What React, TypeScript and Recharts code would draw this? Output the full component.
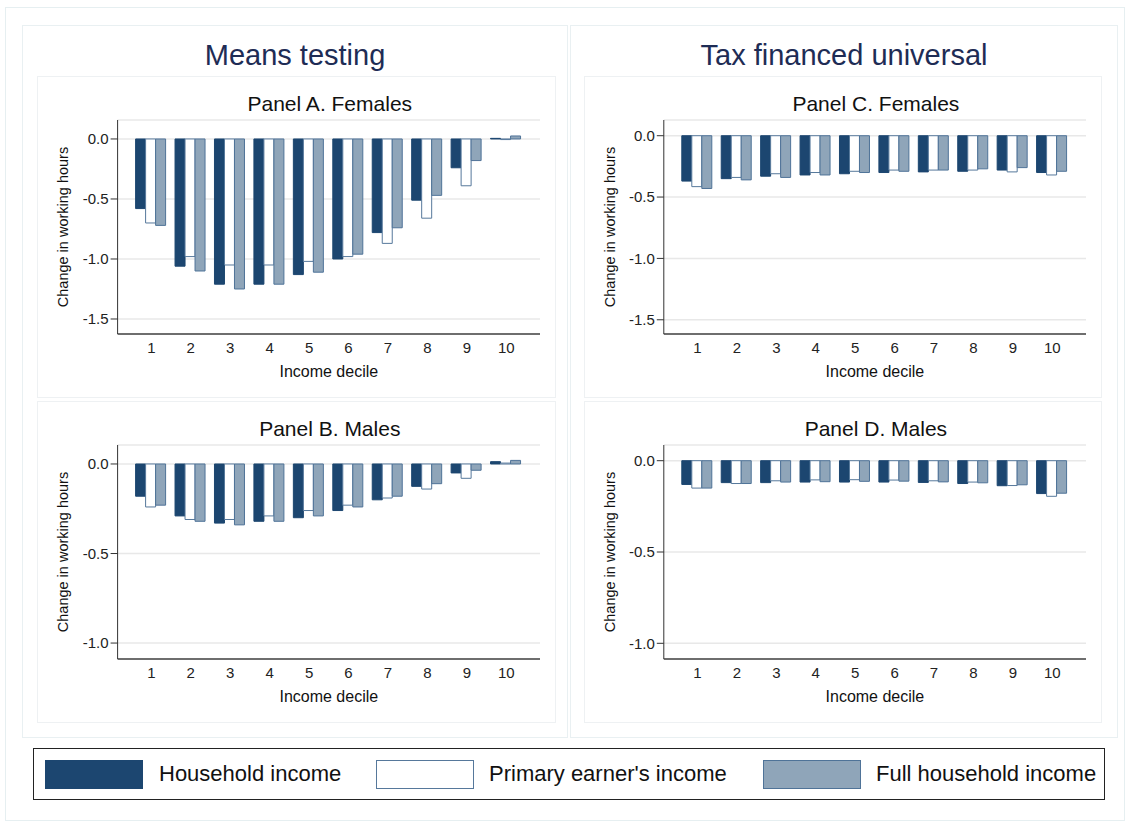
import { BarChart, Bar, XAxis, YAxis, CartesianGrid } from "recharts";

const DECILES = ["1", "2", "3", "4", "5", "6", "7", "8", "9", "10"];

const SERIES = [
  { key: "hh", label: "Household income", fill: "#1c4670", stroke: "#1c4670" },
  { key: "pe", label: "Primary earner's income", fill: "#ffffff", stroke: "#56789b" },
  { key: "full", label: "Full household income", fill: "#8fa5b9", stroke: "#4f7398" },
];

// Means testing, females
const mtFemHh = [-0.58, -1.06, -1.21, -1.21, -1.13, -1.0, -0.78, -0.51, -0.24, 0.005];
const mtFemPe = [-0.7, -0.98, -1.05, -1.05, -1.02, -0.98, -0.87, -0.66, -0.39, -0.005];
const mtFemFull = [-0.72, -1.1, -1.25, -1.21, -1.11, -0.96, -0.74, -0.47, -0.18, 0.025];

// Means testing, males
const mtMalHh = [-0.18, -0.29, -0.33, -0.32, -0.3, -0.26, -0.2, -0.125, -0.05, 0.013];
const mtMalPe = [-0.24, -0.31, -0.31, -0.29, -0.26, -0.23, -0.19, -0.14, -0.08, 0.005];
const mtMalFull = [-0.23, -0.32, -0.34, -0.32, -0.29, -0.24, -0.18, -0.11, -0.035, 0.02];

// Tax financed universal, females
const tuFemHh = [-0.37, -0.35, -0.33, -0.32, -0.31, -0.3, -0.295, -0.29, -0.28, -0.3];
const tuFemPe = [-0.415, -0.34, -0.31, -0.3, -0.29, -0.28, -0.28, -0.28, -0.295, -0.32];
const tuFemFull = [-0.43, -0.36, -0.34, -0.32, -0.3, -0.29, -0.28, -0.27, -0.26, -0.29];

// Tax financed universal, males
const tuMalHh = [-0.13, -0.12, -0.12, -0.117, -0.117, -0.117, -0.119, -0.125, -0.137, -0.18];
const tuMalPe = [-0.15, -0.125, -0.11, -0.105, -0.104, -0.106, -0.11, -0.117, -0.136, -0.195];
const tuMalFull = [-0.15, -0.125, -0.117, -0.115, -0.113, -0.112, -0.116, -0.121, -0.132, -0.178];

const FEMALE_TICKS = [-1.5, -1.0, -0.5, 0];
const MALE_TICKS = [-1.0, -0.5, 0];

const FONT = "'Liberation Sans', Arial, Helvetica, sans-serif";

function rows(hh: number[], pe: number[], full: number[]) {
  return DECILES.map((d, i) => ({ decile: d, hh: hh[i], pe: pe[i], full: full[i] }));
}

interface PanelProps {
  title: string;
  left: number;
  top: number;
  width: number;
  height: number;
  axisWidth: number;
  data: ReturnType<typeof rows>;
  domain: [number, number];
  ticks: number[];
}

function Panel({ title, left, top, width, height, axisWidth, data, domain, ticks }: PanelProps) {
  const plotLeft = axisWidth;
  const plotWidth = width - axisWidth - 16;
  return (
    <div
      style={{
        position: "absolute",
        left,
        top,
        width: width - 2,
        height: height - 2,
        border: "1px solid #eef1f3",
        background: "#fff",
      }}
    >
      <div
        style={{
          position: "absolute",
          left: plotLeft,
          top: 14,
          width: plotWidth,
          textAlign: "center",
          fontSize: 21,
          lineHeight: "26px",
          color: "#111",
        }}
      >
        {title}
      </div>
      <div style={{ position: "absolute", left: -1, top: -1 }}>
        <BarChart
          width={width}
          height={height}
          data={data}
          margin={{ top: 44, right: 16, bottom: 0, left: 0 }}
          barGap={0}
          barCategoryGap={4}
        >
          <CartesianGrid vertical={false} stroke="#e8e8e8" strokeWidth={1.5} />
          <XAxis
            dataKey="decile"
            type="category"
            padding={{ left: 14, right: 14 }}
            tickLine={false}
            axisLine={{ stroke: "#6e6e6e", strokeWidth: 2 }}
            tick={{ fontSize: 15, fill: "#222", fontFamily: FONT }}
            height={64}
            label={{
              value: "Income decile",
              position: "insideBottom",
              offset: 21,
              fill: "#111",
              fontSize: 16,
              fontFamily: FONT,
            }}
          />
          <YAxis
            type="number"
            domain={domain}
            ticks={ticks}
            allowDataOverflow
            width={axisWidth}
            tickSize={7}
            tickFormatter={(v: number) => v.toFixed(1)}
            axisLine={{ stroke: "#333" }}
            tickLine={{ stroke: "#333" }}
            tick={{ fontSize: 15, fill: "#222", fontFamily: FONT }}
            label={{
              value: "Change in working hours",
              angle: -90,
              position: "insideLeft",
              offset: 26,
              fill: "#111",
              fontSize: 14.5,
              fontFamily: FONT,
              style: { textAnchor: "middle" },
            }}
          />
          {SERIES.map((s) => (
            <Bar
              key={s.key}
              dataKey={s.key}
              name={s.label}
              fill={s.fill}
              stroke={s.stroke}
              strokeWidth={1}
              isAnimationActive={false}
            />
          ))}
        </BarChart>
      </div>
    </div>
  );
}

function ColumnBox({ left, width, title }: { left: number; width: number; title: string }) {
  return (
    <div
      style={{
        position: "absolute",
        left,
        top: 25,
        width,
        height: 711,
        border: "1px solid #e9f0f2",
      }}
    >
      <div
        style={{
          position: "absolute",
          left: 0,
          top: 12,
          width,
          textAlign: "center",
          fontSize: 29,
          lineHeight: "34px",
          color: "#1e2c55",
        }}
      >
        {title}
      </div>
    </div>
  );
}

const LEGEND_POS = [
  { swatch: 45, text: 159 },
  { swatch: 376, text: 489 },
  { swatch: 763, text: 876 },
];

export default function App() {
  return (
    <div
      style={{
        position: "absolute",
        left: 0,
        top: 0,
        width: 1129,
        height: 825,
        background: "#fff",
        fontFamily: FONT,
        overflow: "hidden",
      }}
    >
      <div
        style={{
          position: "absolute",
          left: 5,
          top: 7,
          width: 1118,
          height: 812,
          border: "1px solid #e6eff1",
        }}
      />
      <ColumnBox left={22} width={544} title="Means testing" />
      <ColumnBox left={570} width={546} title="Tax financed universal" />

      <Panel
        title="Panel A. Females"
        left={37}
        top={76}
        width={519}
        height={322}
        axisWidth={80.6}
        data={rows(mtFemHh, mtFemPe, mtFemFull)}
        domain={[-1.625, 0.158]}
        ticks={FEMALE_TICKS}
      />
      <Panel
        title="Panel B. Males"
        left={37}
        top={401}
        width={519}
        height={322}
        axisWidth={80.6}
        data={rows(mtMalHh, mtMalPe, mtMalFull)}
        domain={[-1.089, 0.106]}
        ticks={MALE_TICKS}
      />
      <Panel
        title="Panel C. Females"
        left={584}
        top={76}
        width={518}
        height={322}
        axisWidth={79.8}
        data={rows(tuFemHh, tuFemPe, tuFemFull)}
        domain={[-1.616, 0.128]}
        ticks={FEMALE_TICKS}
      />
      <Panel
        title="Panel D. Males"
        left={584}
        top={401}
        width={518}
        height={322}
        axisWidth={79.8}
        data={rows(tuMalHh, tuMalPe, tuMalFull)}
        domain={[-1.086, 0.086]}
        ticks={MALE_TICKS}
      />

      <div
        style={{
          position: "absolute",
          left: 33,
          top: 748,
          width: 1070,
          height: 50,
          border: "1.5px solid #222",
        }}
      >
        {SERIES.map((s, i) => (
          <div key={s.key}>
            <div
              style={{
                position: "absolute",
                left: LEGEND_POS[i].swatch - 34,
                top: 11,
                width: 96,
                height: 27,
                background: s.fill,
                border: `1.5px solid ${s.stroke}`,
              }}
            />
            <div
              style={{
                position: "absolute",
                left: LEGEND_POS[i].text - 34,
                top: 11,
                fontSize: 22,
                lineHeight: "28px",
                color: "#111",
                whiteSpace: "nowrap",
              }}
            >
              {s.label}
            </div>
          </div>
        ))}
      </div>
    </div>
  );
}
